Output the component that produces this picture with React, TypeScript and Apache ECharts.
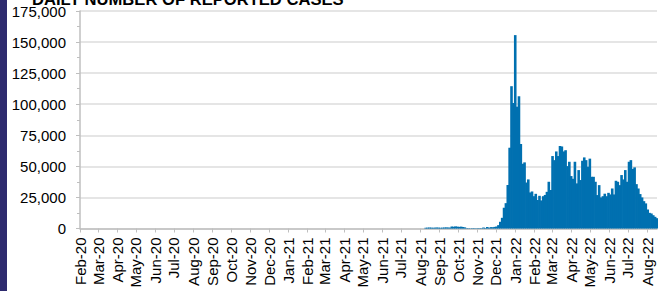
import React, { useEffect, useRef } from "react";
import * as echarts from "echarts";

// Tick labels along the x axis (one per month, first day of month)
const monthLabels = [
  "Feb-20", "Mar-20", "Apr-20", "May-20", "Jun-20", "Jul-20", "Aug-20", "Sep-20",
  "Oct-20", "Nov-20", "Dec-20", "Jan-21", "Feb-21", "Mar-21", "Apr-21", "May-21",
  "Jun-21", "Jul-21", "Aug-21", "Sep-21", "Oct-21", "Nov-21", "Dec-21", "Jan-22",
  "Feb-22", "Mar-22", "Apr-22", "May-22", "Jun-22", "Jul-22", "Aug-22",
];

// Daily reported cases, read every 3rd day starting 2021-08-01
// (values before August 2021 are effectively zero at this scale)
const seriesStart = [2021, 7, 1]; // year, monthIndex, day
const stepDays = 3;
const casesLate2021 = [
  0, 0, 0,
  600, 700, 800, 700, 600, 700, 800, 700, 600, 700, 800, 900, 800, 700,
  1600, 1400, 1700, 1500, 1300, 1500, 1200, 900,
  300, 300, 200, 300, 300, 200, 300, 300, 300,
  800, 400, 1200, 600,
  1100, 1000, 1300, 1600, 2700, 5400, 8600, 16700, 20400, 35000, 65000,
];
const cases2022 = [
  114500, 101000, 155600, 98000, 106400, 68000, 52100, 53200, 37000, 39500,
  29000, 29800, 26000, 27900, 23000, 26300, 22600, 26000, 27000, 29500,
  37600, 31000, 58300, 55000, 62000, 58300, 66400, 66000, 62000, 63000,
  50200, 53700, 42200, 40000, 53700, 36300, 47000, 39000, 54500, 57200,
  55000, 49700, 56200, 41600, 41600, 37600, 26900, 34900, 25000, 26000,
  28000, 26000, 28700, 27400, 32200, 27400, 38400, 37600, 34900, 43000,
  39500, 47000, 37600, 53700, 55000, 48000, 49200, 35700, 32200, 27700,
  25000, 22000, 20200, 15300, 12600, 12100, 10700, 9400, 8300,
];

// y-axis ticks
const yMin = 0;
const yMax = 175000;
const yStep = 25000;

const DAY = 24 * 3600 * 1000;

export default function App() {
  const ref = useRef<HTMLDivElement>(null);

  useEffect(() => {
    document.body.style.margin = "0";
    if (!ref.current) return;
    const chart = echarts.init(ref.current, undefined, { renderer: "svg" });

    const monthTicks = monthLabels.map((_, k) => Date.UTC(2020, 1 + k, 1));
    const labelByTick = new Map<number, string>();
    monthTicks.forEach((t, k) => labelByTick.set(t, monthLabels[k]));

    const startTs = Date.UTC(seriesStart[0], seriesStart[1], seriesStart[2]);
    const allValues = [...casesLate2021, ...cases2022];
    const data = allValues.map((v, i) => [startTs + i * stepDays * DAY, v]);

    const font = "Liberation Sans";

    chart.setOption({
      animation: false,
      backgroundColor: "#ffffff",
      grid: { left: 80, right: 1, top: 11, bottom: 62.5, containLabel: false },
      xAxis: {
        type: "value",
        min: Date.UTC(2020, 1, 1),
        max: Date.UTC(2022, 7, 17),
        splitLine: { show: false },
        axisLine: { show: true, onZero: false, lineStyle: { color: "#bfbfbf", width: 1.5 } },
        axisTick: { show: true, length: 4, customValues: monthTicks, lineStyle: { color: "#bfbfbf" } },
        axisLabel: {
          customValues: monthTicks,
          rotate: 90,
          margin: 9,
          fontSize: 15,
          fontFamily: font,
          color: "#000",
          formatter: (v: number) => labelByTick.get(v) ?? "",
        },
      },
      yAxis: {
        type: "value",
        min: yMin,
        max: yMax,
        interval: yStep,
        axisLine: { show: true, lineStyle: { color: "#bfbfbf", width: 1.5 } },
        axisTick: { show: true, length: 4, lineStyle: { color: "#bfbfbf" } },
        minorTick: { show: true, splitNumber: 2, length: 3, lineStyle: { color: "#bfbfbf" } },
        splitLine: { show: true, lineStyle: { color: "#dcdcdc", width: 1.5 } },
        axisLabel: {
          margin: 14,
          fontSize: 15,
          fontFamily: font,
          color: "#000",
          formatter: (v: number) => v.toLocaleString("en-US"),
        },
      },
      series: [
        {
          type: "bar",
          data,
          barWidth: 2.6,
          itemStyle: { color: "#0070b0" },
          silent: true,
        },
      ],
      graphic: [
        {
          type: "rect",
          left: 0,
          top: 0,
          shape: { x: 0, y: 0, width: 7, height: 291 },
          style: { fill: "#2d2a6e" },
          z: 100,
        },
        {
          type: "text",
          x: 32,
          y: -0.7,
          style: {
            text: "DAILY NUMBER OF REPORTED CASES",
            fill: "#000",
            font: `bold 16.6px "${font}"`,
            textAlign: "left",
            textVerticalAlign: "middle",
          },
          z: 100,
        },
      ],
    });

    return () => chart.dispose();
  }, []);

  return <div ref={ref} style={{ width: 658, height: 291 }} />;
}
